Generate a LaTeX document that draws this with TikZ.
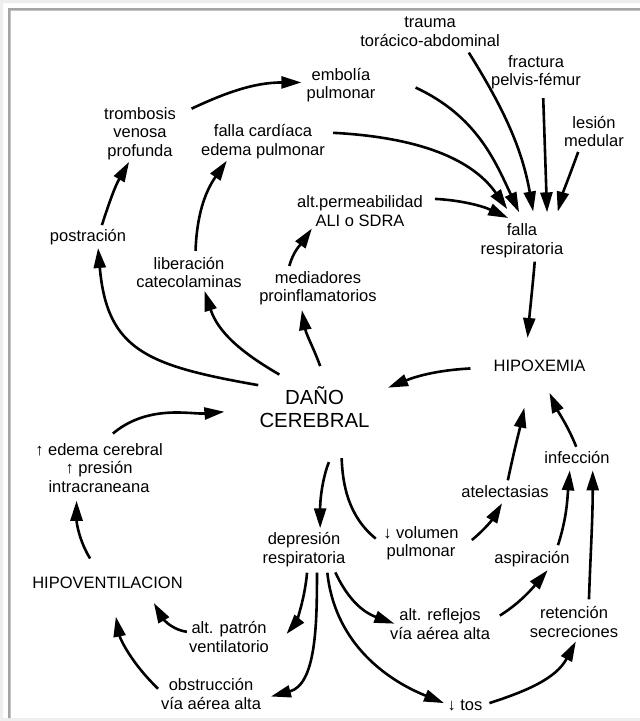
\documentclass[tikz,border=0pt]{standalone}
\usepackage{fontspec}
\setmainfont{Liberation Sans}
\usetikzlibrary{arrows.meta}
\definecolor{marco}{HTML}{A4A4A4}
\definecolor{fondo}{HTML}{EEEEEE}
\tikzset{
etiq/.style={align=center, inner sep=2pt, font=\fontsize{16.5}{18.5}\selectfont},
titulo/.style={align=center, font=\fontsize{20.4}{23}\selectfont},
trazo/.style={line width=2.6pt},
flecha/.style={trazo, -{Triangle[length=20pt,width=12pt]}}
}

\begin{document}
\begin{tikzpicture}[x=1pt,y=1pt]
	\useasboundingbox (0,0) rectangle (640,-721);
	\fill[white] (0,0) rectangle (640,-721);
	\fill[fondo] (0,0) rectangle (640,-3) (0,0) rectangle (3,-721) (0,-718) rectangle (640,-721);
	\fill[marco] (8,-8) rectangle (640,-10.5) (8,-8) rectangle (10.5,-718);

	\node[etiq] (trauma) at (430,-31.5) {trauma\\torácico-abdominal};
	\node[etiq] (fractura) at (536,-72) {fractura\\pelvis-fémur};
	\node[etiq] (lesion) at (594,-131.5) {lesión\\medular};
	\node[etiq] (embolia) at (341,-85) {embolía\\pulmonar};
	\node[etiq] (trombosis) at (140,-133.5) {trombosis\\venosa\\profunda};
	\node[etiq] (cardiaca) at (263,-141.5) {falla cardíaca\\edema pulmonar};
	\node[etiq] (permeab) at (360,-211) {alt.permeabilidad\\ALI o SDRA};
	\node[etiq] (fallaresp) at (522,-240.5) {falla\\respiratoria};
	\node[etiq] (postracion) at (88,-237) {postración};
	\node[etiq] (liberacion) at (189,-272.5) {liberación\\catecolaminas};
	\node[etiq] (mediadores) at (318,-288) {mediadores\\proinflamatorios};
	\node[etiq, inner xsep=21pt, inner ysep=19pt] (hipox) at (539.5,-366) {HIPOXEMIA};
	\node[titulo, inner xsep=10pt, inner ysep=12pt] (dano) at (314.5,-407.3) {DAÑO\\CEREBRAL};
	\node[etiq] (edema) at (99,-468) {↑ edema cerebral\\↑ presión\\intracraneana};
	\node[etiq] (infeccion) at (577,-457) {infección};
	\node[etiq] (atelect) at (505,-491.5) {atelectasias};
	\node[etiq] (volumen) at (421,-543) {↓ volumen\\pulmonar};
	\node[etiq] (depresion) at (304,-549.5) {depresión\\respiratoria};
	\node[etiq] (aspiracion) at (532,-559) {aspiración};
	\node[etiq, inner ysep=10pt] (hipovent) at (107.5,-583) {HIPOVENTILACION};
	\node[etiq] (patron) at (229,-637) {alt. patrón\\ventilatorio};
	\node[etiq] (reflejos) at (440,-624) {alt. reflejos\\vía aérea alta};
	\node[etiq] (retencion) at (574,-622) {retención\\secreciones};
	\node[etiq] (obstruc) at (211,-694) {obstrucción\\vía aérea alta};
	\node[etiq] (tos) at (465,-705) {↓ tos};

	\draw[flecha, shorten <=15pt, shorten >=3pt] (trombosis.26) to[out=25,in=180] (embolia.176);
	\draw[flecha, shorten <=2pt] (postracion.37) to[out=72,in=240] (trombosis.249);
	\draw[flecha, shorten <=4pt] (liberacion.70) to[out=88,in=235] (cardiaca.208);
	\draw[flecha, shorten <=3pt] (mediadores.147) to[out=75,in=235] (permeab.200);
	\draw[flecha, shorten >=10pt] ([xshift=38pt]embolia.-4) to[out=-25,in=115] (fallaresp.86);
	\draw[flecha, shorten <=6pt, shorten >=15pt] (cardiaca.8) to[out=-3,in=125] (fallaresp.108);
	\draw[flecha, shorten <=5pt, shorten >=10pt] (trauma.-25) to[out=-58,in=100] (fallaresp.56);
	\draw[flecha, shorten <=7pt, shorten >=9pt] (fractura.-70) to[out=-88,in=92] (fallaresp.37);
	\draw[flecha, shorten <=3pt, shorten >=10pt] (lesion.230) to[out=-110,in=75] (fallaresp.30);
	\draw[flecha, shorten <=10pt, shorten >=8pt] (permeab.11) to[out=-3,in=155] (fallaresp.109);
	\draw[flecha, shorten <=2pt, shorten >=3pt] (fallaresp.-56) to[out=-95,in=85] (hipox.116);
	\draw[flecha, shorten <=2pt, shorten >=9pt] (hipox.182) to[out=183,in=22] (dano.14);
	\draw[flecha, shorten <=-9pt, shorten >=1pt, looseness=1.3] (dano.160) to[out=170,in=-85] (postracion.-45);
	\draw[flecha, shorten >=1pt] (dano.137) to[out=150,in=-72] (liberacion.-49);
	\draw[flecha, shorten <=9pt, shorten >=3pt] (dano.75) to[out=110,in=-80] (mediadores.229);
	\draw[flecha, shorten <=12pt, shorten >=25pt] (edema.80) to[out=40,in=185] (dano.182);
	\draw[flecha, shorten <=10pt, shorten >=6pt] (hipovent.127) to[out=122,in=-90] (edema.230);
	\draw[flecha, shorten <=24pt, shorten >=2pt] (dano.-54) to[out=-113,in=90] (depresion.50);
	\draw[trazo, shorten <=18pt, shorten >=7pt] (dano.-51) to[out=-88,in=141] (volumen.west);
	\draw[flecha, shorten <=14pt, shorten >=4pt] (volumen.-8) to[out=38,in=-121] (atelect.264);
	\draw[flecha, shorten <=3pt, shorten >=17pt] (atelect.75) to[out=78,in=-102] (hipox.245);
	\draw[flecha, shorten <=2pt, shorten >=2pt] (infeccion.north) to[out=112,in=-65] (hipox.-70);
	\draw[flecha, shorten <=4pt, shorten >=5pt] (aspiracion.22) to[out=72,in=-95] (infeccion.231);
	\draw[flecha, shorten <=5pt, shorten >=5pt] (retencion.50) to[out=88,in=-90] (infeccion.-28);
	\draw[flecha, shorten <=9pt, shorten >=1.5pt] (reflejos.4) to[out=32,in=-130] (aspiracion.-31);
	\draw[flecha, shorten <=4pt, shorten >=24pt] (depresion.-80) to[out=-95,in=50] (patron.-20);
	\draw[flecha, shorten <=4pt, shorten >=8pt] (depresion.-56) to[out=-90,in=15] (obstruc.-5);
	\draw[flecha, shorten <=4pt, shorten >=-7pt] (depresion.-33) to[out=-65,in=160] (reflejos.177);
	\draw[flecha, shorten <=4pt, shorten >=1.5pt] (depresion.-40) to[out=-84,in=158] (tos.176);
	\draw[flecha, shorten <=5pt, shorten >=2pt] (tos.1) to[out=18,in=-118] (retencion.-81);
	\draw[flecha, shorten >=4.6pt] (patron.173) to[out=171,in=-60] (hipovent.-20);
	\draw[flecha, shorten <=1pt, shorten >=18pt] (obstruc.175) to[out=136,in=-79] (hipovent.-73);
\end{tikzpicture}
\end{document}
